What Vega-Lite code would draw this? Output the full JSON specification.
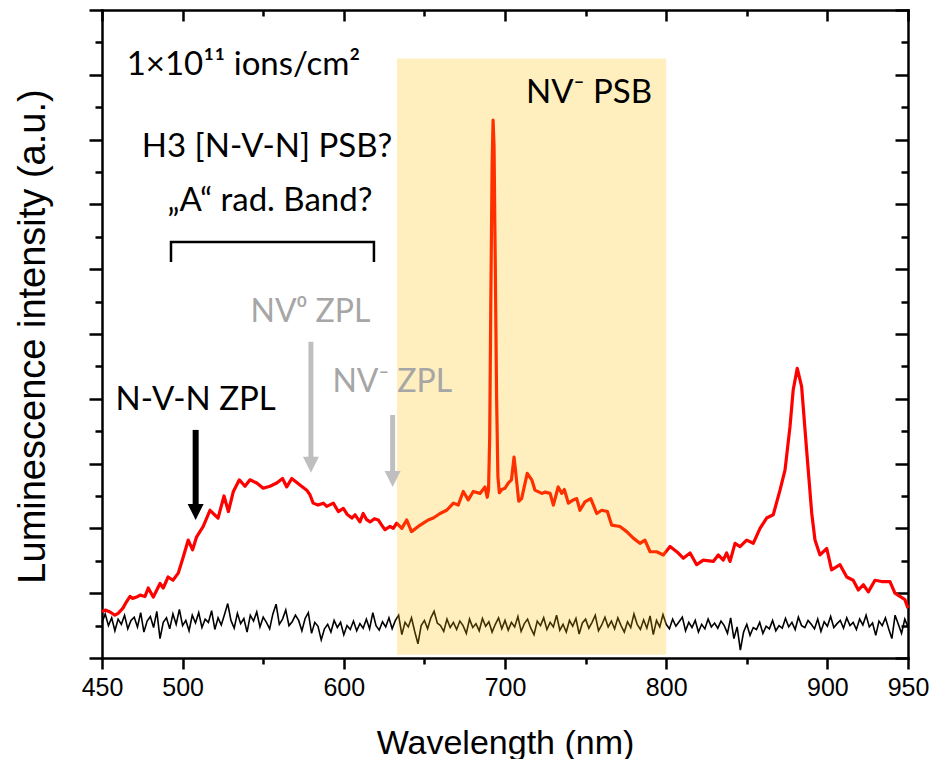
{
  "$schema": "https://vega.github.io/schema/vega-lite/v6.json",
  "width": 806,
  "height": 648,
  "autosize": {"type": "none"},
  "padding": {"left": 102, "top": 10, "right": 37, "bottom": 101},
  "background": "white",
  "config": {
    "view": {"stroke": null},
    "axis": {"grid": false, "domainColor": "black", "tickColor": "black", "domainWidth": 2.5, "tickWidth": 2.5, "domainCap": "square"}
  },
  "resolve": {"axis": {"x": "independent", "y": "independent"}},
  "datasets": {
    "red": [
      {"x":450,"y":0.71},{"x":452,"y":0.74},{"x":455,"y":0.71},{"x":458,"y":0.66},{"x":460,"y":0.69},{"x":463,"y":0.77},{"x":465,"y":0.86},{"x":467.4,"y":0.95},{"x":469,"y":0.92},{"x":471.5,"y":0.94},{"x":473.6,"y":0.97},{"x":476.7,"y":0.95},{"x":478.7,"y":1.08},{"x":481.8,"y":0.94},{"x":484,"y":1.05},{"x":486,"y":1.15},{"x":488,"y":1.08},{"x":491,"y":1.25},{"x":494,"y":1.2},{"x":497.3,"y":1.31},{"x":500.4,"y":1.56},{"x":503.5,"y":1.82},{"x":506.2,"y":1.67},{"x":508.7,"y":1.87},{"x":512.8,"y":2.03},{"x":517,"y":2.28},{"x":519,"y":2.23},{"x":522,"y":2.16},{"x":525.7,"y":2.5},{"x":528.4,"y":2.26},{"x":531.5,"y":2.57},{"x":535.2,"y":2.75},{"x":538.7,"y":2.65},{"x":541.8,"y":2.75},{"x":546,"y":2.7},{"x":550,"y":2.62},{"x":554.2,"y":2.65},{"x":558.4,"y":2.7},{"x":562,"y":2.77},{"x":564.6,"y":2.64},{"x":567.7,"y":2.77},{"x":572.8,"y":2.67},{"x":577,"y":2.59},{"x":579,"y":2.52},{"x":581,"y":2.39},{"x":584,"y":2.36},{"x":587.3,"y":2.39},{"x":589.4,"y":2.34},{"x":593.5,"y":2.39},{"x":596.6,"y":2.26},{"x":599.7,"y":2.31},{"x":602,"y":2.22},{"x":605,"y":2.16},{"x":607,"y":2.21},{"x":610,"y":2.1},{"x":612,"y":2.23},{"x":614,"y":2.14},{"x":616.3,"y":2.1},{"x":619,"y":2.15},{"x":621.4,"y":2.13},{"x":623.5,"y":2.05},{"x":625.6,"y":1.98},{"x":628.7,"y":2.03},{"x":630.7,"y":2.0},{"x":632.8,"y":2.08},{"x":636,"y":2.0},{"x":639,"y":2.13},{"x":642,"y":1.95},{"x":646.2,"y":2.03},{"x":649.3,"y":2.08},{"x":652.4,"y":2.13},{"x":655.5,"y":2.16},{"x":659.7,"y":2.23},{"x":663.8,"y":2.28},{"x":668,"y":2.39},{"x":671,"y":2.36},{"x":674.1,"y":2.57},{"x":677.2,"y":2.44},{"x":680.3,"y":2.57},{"x":684.5,"y":2.54},{"x":687.6,"y":2.64},{"x":689,"y":2.48},{"x":689.8,"y":2.6},{"x":690.5,"y":3.4},{"x":691.2,"y":5.5},{"x":692,"y":7.6},{"x":692.6,"y":8.3},{"x":693.2,"y":7.9},{"x":694,"y":6.0},{"x":694.8,"y":4.0},{"x":695.6,"y":2.8},{"x":696.5,"y":2.55},{"x":698,"y":2.6},{"x":700,"y":2.62},{"x":702,"y":2.7},{"x":704,"y":2.75},{"x":705.6,"y":3.1},{"x":706.5,"y":2.9},{"x":708.5,"y":2.42},{"x":710.3,"y":2.46},{"x":713.8,"y":2.85},{"x":716.6,"y":2.75},{"x":718.6,"y":2.59},{"x":722.8,"y":2.54},{"x":725,"y":2.56},{"x":728,"y":2.54},{"x":730,"y":2.36},{"x":733,"y":2.64},{"x":735.2,"y":2.54},{"x":736.8,"y":2.6},{"x":739.3,"y":2.39},{"x":742.4,"y":2.44},{"x":744.5,"y":2.46},{"x":746.5,"y":2.28},{"x":749.6,"y":2.41},{"x":753.2,"y":2.46},{"x":756.9,"y":2.23},{"x":760,"y":2.28},{"x":763.5,"y":2.26},{"x":766.2,"y":2.05},{"x":771.3,"y":2.03},{"x":775.5,"y":1.95},{"x":779.6,"y":1.85},{"x":783.7,"y":1.77},{"x":786.8,"y":1.82},{"x":790,"y":1.64},{"x":794.1,"y":1.64},{"x":798.2,"y":1.59},{"x":802.4,"y":1.72},{"x":807.5,"y":1.62},{"x":810.6,"y":1.54},{"x":814.8,"y":1.62},{"x":818.9,"y":1.44},{"x":823,"y":1.51},{"x":829.2,"y":1.49},{"x":832.3,"y":1.59},{"x":835.4,"y":1.51},{"x":837.5,"y":1.62},{"x":839.6,"y":1.49},{"x":842.7,"y":1.77},{"x":845.8,"y":1.72},{"x":849.9,"y":1.82},{"x":854,"y":1.77},{"x":858.2,"y":2.0},{"x":862.3,"y":2.16},{"x":866.4,"y":2.21},{"x":870.6,"y":2.59},{"x":873.7,"y":2.9},{"x":876.8,"y":3.57},{"x":878.8,"y":4.14},{"x":881.3,"y":4.47},{"x":884,"y":4.19},{"x":887.1,"y":3.21},{"x":890.3,"y":2.23},{"x":892.3,"y":1.82},{"x":895.4,"y":1.59},{"x":899.6,"y":1.69},{"x":902.6,"y":1.36},{"x":907.8,"y":1.44},{"x":912,"y":1.25},{"x":916,"y":1.2},{"x":919.2,"y":1.05},{"x":922.3,"y":1.13},{"x":925.4,"y":1.02},{"x":929.5,"y":1.2},{"x":933.7,"y":1.18},{"x":938.8,"y":1.18},{"x":941.9,"y":1.0},{"x":945,"y":0.95},{"x":948.1,"y":0.9},{"x":950,"y":0.77}
    ],
    "black": [
      {"x":450,"y":0.55},{"x":452,"y":0.68},{"x":454,"y":0.50},{"x":456,"y":0.62},{"x":458,"y":0.42},{"x":460,"y":0.60},{"x":462,"y":0.52},{"x":464,"y":0.66},{"x":466,"y":0.45},{"x":468,"y":0.58},
      {"x":470,"y":0.63},{"x":472,"y":0.48},{"x":474,"y":0.70},{"x":476,"y":0.40},{"x":478,"y":0.57},{"x":480,"y":0.64},{"x":482,"y":0.47},{"x":484,"y":0.72},{"x":486,"y":0.30},{"x":488,"y":0.55},
      {"x":490,"y":0.62},{"x":492,"y":0.45},{"x":494,"y":0.68},{"x":496,"y":0.52},{"x":498,"y":0.75},{"x":500,"y":0.50},{"x":502,"y":0.58},{"x":504,"y":0.42},{"x":506,"y":0.66},{"x":508,"y":0.54},
      {"x":510,"y":0.70},{"x":512,"y":0.47},{"x":514,"y":0.60},{"x":516,"y":0.55},{"x":518,"y":0.73},{"x":520,"y":0.44},{"x":522,"y":0.62},{"x":524,"y":0.51},{"x":526,"y":0.67},{"x":528,"y":0.84},
      {"x":530,"y":0.58},{"x":532,"y":0.46},{"x":534,"y":0.69},{"x":536,"y":0.53},{"x":538,"y":0.61},{"x":540,"y":0.40},{"x":542,"y":0.66},{"x":544,"y":0.57},{"x":546,"y":0.71},{"x":548,"y":0.48},
      {"x":550,"y":0.63},{"x":552,"y":0.55},{"x":554,"y":0.45},{"x":556,"y":0.68},{"x":558,"y":0.83},{"x":560,"y":0.52},{"x":562,"y":0.60},{"x":564,"y":0.74},{"x":566,"y":0.50},{"x":568,"y":0.56},
      {"x":570,"y":0.66},{"x":572,"y":0.58},{"x":574,"y":0.42},{"x":576,"y":0.61},{"x":578,"y":0.70},{"x":580,"y":0.38},{"x":582,"y":0.55},{"x":584,"y":0.49},{"x":586,"y":0.28},{"x":588,"y":0.45},
      {"x":590,"y":0.52},{"x":592,"y":0.40},{"x":594,"y":0.58},{"x":596,"y":0.47},{"x":598,"y":0.55},{"x":600,"y":0.36},{"x":602,"y":0.50},{"x":604,"y":0.44},{"x":606,"y":0.57},{"x":608,"y":0.42},
      {"x":610,"y":0.53},{"x":612,"y":0.46},{"x":614,"y":0.60},{"x":616,"y":0.45},{"x":618,"y":0.70},{"x":620,"y":0.50},{"x":622,"y":0.43},{"x":624,"y":0.56},{"x":626,"y":0.48},{"x":628,"y":0.62},
      {"x":630,"y":0.45},{"x":632,"y":0.58},{"x":634,"y":0.66},{"x":636,"y":0.36},{"x":638,"y":0.55},{"x":640,"y":0.48},{"x":642,"y":0.62},{"x":644,"y":0.41},{"x":646,"y":0.22},{"x":648,"y":0.50},
      {"x":650,"y":0.58},{"x":652,"y":0.45},{"x":654,"y":0.62},{"x":656,"y":0.72},{"x":658,"y":0.54},{"x":660,"y":0.50},{"x":662,"y":0.41},{"x":664,"y":0.60},{"x":666,"y":0.47},{"x":668,"y":0.55},
      {"x":670,"y":0.44},{"x":672,"y":0.57},{"x":674,"y":0.50},{"x":676,"y":0.38},{"x":678,"y":0.60},{"x":680,"y":0.47},{"x":682,"y":0.53},{"x":684,"y":0.42},{"x":686,"y":0.61},{"x":688,"y":0.49},
      {"x":690,"y":0.56},{"x":692,"y":0.40},{"x":694,"y":0.52},{"x":696,"y":0.62},{"x":698,"y":0.45},{"x":700,"y":0.58},{"x":702,"y":0.43},{"x":704,"y":0.55},{"x":706,"y":0.48},{"x":708,"y":0.64},
      {"x":710,"y":0.41},{"x":712,"y":0.53},{"x":714,"y":0.60},{"x":716,"y":0.46},{"x":718,"y":0.36},{"x":720,"y":0.57},{"x":722,"y":0.50},{"x":724,"y":0.62},{"x":726,"y":0.44},{"x":728,"y":0.55},
      {"x":730,"y":0.48},{"x":732,"y":0.66},{"x":734,"y":0.43},{"x":736,"y":0.52},{"x":738,"y":0.40},{"x":740,"y":0.58},{"x":742,"y":0.49},{"x":744,"y":0.61},{"x":746,"y":0.37},{"x":748,"y":0.54},
      {"x":750,"y":0.60},{"x":752,"y":0.46},{"x":754,"y":0.55},{"x":756,"y":0.66},{"x":758,"y":0.42},{"x":760,"y":0.51},{"x":762,"y":0.63},{"x":764,"y":0.48},{"x":766,"y":0.57},{"x":768,"y":0.45},
      {"x":770,"y":0.62},{"x":772,"y":0.50},{"x":774,"y":0.40},{"x":776,"y":0.56},{"x":778,"y":0.47},{"x":780,"y":0.68},{"x":782,"y":0.52},{"x":784,"y":0.44},{"x":786,"y":0.59},{"x":788,"y":0.46},
      {"x":790,"y":0.65},{"x":792,"y":0.36},{"x":794,"y":0.58},{"x":796,"y":0.48},{"x":798,"y":0.67},{"x":800,"y":0.52},{"x":802,"y":0.45},{"x":804,"y":0.60},{"x":806,"y":0.49},{"x":808,"y":0.56},
      {"x":810,"y":0.63},{"x":812,"y":0.42},{"x":814,"y":0.55},{"x":816,"y":0.47},{"x":818,"y":0.58},{"x":820,"y":0.40},{"x":822,"y":0.52},{"x":824,"y":0.45},{"x":826,"y":0.60},{"x":828,"y":0.48},
      {"x":830,"y":0.54},{"x":832,"y":0.46},{"x":834,"y":0.57},{"x":836,"y":0.50},{"x":838,"y":0.38},{"x":840,"y":0.62},{"x":842,"y":0.30},{"x":844,"y":0.48},{"x":846,"y":0.12},{"x":848,"y":0.40},
      {"x":850,"y":0.52},{"x":852,"y":0.35},{"x":854,"y":0.47},{"x":856,"y":0.44},{"x":858,"y":0.55},{"x":860,"y":0.38},{"x":862,"y":0.49},{"x":864,"y":0.45},{"x":866,"y":0.58},{"x":868,"y":0.42},
      {"x":870,"y":0.50},{"x":872,"y":0.46},{"x":874,"y":0.61},{"x":876,"y":0.48},{"x":878,"y":0.55},{"x":880,"y":0.44},{"x":882,"y":0.63},{"x":884,"y":0.50},{"x":886,"y":0.47},{"x":888,"y":0.58},
      {"x":890,"y":0.52},{"x":892,"y":0.45},{"x":894,"y":0.60},{"x":896,"y":0.41},{"x":898,"y":0.56},{"x":900,"y":0.49},{"x":902,"y":0.64},{"x":904,"y":0.47},{"x":906,"y":0.53},{"x":908,"y":0.58},
      {"x":910,"y":0.46},{"x":912,"y":0.62},{"x":914,"y":0.50},{"x":916,"y":0.55},{"x":918,"y":0.44},{"x":920,"y":0.60},{"x":922,"y":0.51},{"x":924,"y":0.66},{"x":926,"y":0.48},{"x":928,"y":0.54},
      {"x":930,"y":0.35},{"x":932,"y":0.57},{"x":934,"y":0.50},{"x":936,"y":0.62},{"x":938,"y":0.45},{"x":940,"y":0.30},{"x":942,"y":0.66},{"x":944,"y":0.52},{"x":946,"y":0.38},{"x":948,"y":0.60},
      {"x":950,"y":0.48}
    ],
    "shade": [{"x":633,"x2":800,"y":0.05,"y2":9.25}],
    "bracket": [{"x":492.8,"y":6.11,"o":0},{"x":492.8,"y":6.42,"o":1},{"x":618.7,"y":6.42,"o":2},{"x":618.7,"y":6.11,"o":3}],
    "arrowBlack": [{"x":508.1,"y":3.52,"y2":2.3,"tip":2.13}],
    "arrowGray": [{"x":579.6,"y":4.88,"y2":3.0,"tip":2.86},{"x":630.3,"y":3.75,"y2":2.8,"tip":2.64}],
    "textBlack": [
      {"x":537.8,"y":9.0,"text":"1×10¹¹ ions/cm²"},
      {"x":552.4,"y":7.73,"text":"H3 [N-V-N] PSB?"},
      {"x":554.2,"y":6.9,"text":"„A“ rad. Band?"},
      {"x":752.1,"y":8.56,"text":"NV⁻ PSB"},
      {"x":508.1,"y":3.83,"text":"N-V-N ZPL"}
    ],
    "textGray": [
      {"x":579.3,"y":5.19,"text":"NV⁰ ZPL"},
      {"x":630.1,"y":4.11,"text":"NV⁻ ZPL"}
    ]
  },
  "layer": [
    {
      "data": {"name": "red"},
      "mark": {"type": "line", "color": "#FF0000", "strokeWidth": 3.2, "strokeJoin": "round"},
      "encoding": {
        "x": {"field": "x", "type": "quantitative", "scale": {"domain": [450, 950], "nice": false, "zero": false},
          "axis": {"orient": "bottom", "values": [450,500,550,600,650,700,750,800,850,900,950],
            "tickSize": {"condition": {"test": "datum.value % 100 === 0 || datum.value === 450 || datum.value === 950", "value": 11}, "value": 6},
            "labelExpr": "(datum.value % 100 === 0 || datum.value === 450 || datum.value === 950) ? datum.label : ''",
            "labelFont": "Liberation Sans", "labelFontSize": 25, "labelColor": "black", "labelPadding": 6, "labelFlush": false, "labelOverlap": false,
            "title": "Wavelength (nm)", "titleFont": "Liberation Sans", "titleFontSize": 34, "titleFontWeight": "normal", "titleColor": "black",
            "titleX": 403, "titleY": 95, "titleBaseline": "alphabetic", "titleAlign": "center"}},
        "y": {"field": "y", "type": "quantitative", "scale": {"domain": [0, 10], "nice": false, "zero": false},
          "axis": {"orient": "left", "values": [0,0.5,1,1.5,2,2.5,3,3.5,4,4.5,5,5.5,6,6.5,7,7.5,8,8.5,9,9.5,10],
            "tickSize": {"condition": {"test": "datum.value % 1 === 0", "value": 13}, "value": 7},
            "labels": false,
            "title": "Luminescence intensity (a.u.)", "titleFont": "Liberation Sans", "titleFontSize": 38, "titleFontWeight": "normal", "titleColor": "black",
            "titleX": -69, "titleY": 326, "titleAngle": 270, "titleAlign": "center", "titleBaseline": "middle"}}
      }
    },
    {
      "data": {"name": "black"},
      "mark": {"type": "line", "color": "#000000", "strokeWidth": 1.6, "strokeJoin": "miter"},
      "encoding": {
        "x": {"field": "x", "type": "quantitative",
          "axis": {"orient": "top", "values": [450,500,550,600,650,700,750,800,850,900,950],
            "tickSize": {"condition": {"test": "datum.value % 100 === 0 || datum.value === 450 || datum.value === 950", "value": -11}, "value": -6},
            "labels": false, "title": null}},
        "y": {"field": "y", "type": "quantitative",
          "axis": {"orient": "right", "values": [0,0.5,1,1.5,2,2.5,3,3.5,4,4.5,5,5.5,6,6.5,7,7.5,8,8.5,9,9.5,10],
            "tickSize": {"condition": {"test": "datum.value % 1 === 0", "value": -13}, "value": -7},
            "labels": false, "title": null}}
      }
    },
    {
      "data": {"name": "shade"},
      "mark": {"type": "rect", "color": "#FFC000", "opacity": 0.25},
      "encoding": {
        "x": {"field": "x", "type": "quantitative", "axis": null},
        "x2": {"field": "x2"},
        "y": {"field": "y", "type": "quantitative", "axis": null},
        "y2": {"field": "y2"}
      }
    },
    {
      "data": {"name": "bracket"},
      "mark": {"type": "line", "color": "black", "strokeWidth": 2.5, "strokeJoin": "miter", "strokeCap": "butt"},
      "encoding": {
        "x": {"field": "x", "type": "quantitative", "axis": null},
        "y": {"field": "y", "type": "quantitative", "axis": null},
        "order": {"field": "o", "type": "quantitative"}
      }
    },
    {
      "data": {"name": "arrowBlack"},
      "mark": {"type": "rule", "color": "black", "strokeWidth": 6},
      "encoding": {
        "x": {"field": "x", "type": "quantitative", "axis": null},
        "y": {"field": "y", "type": "quantitative", "axis": null},
        "y2": {"field": "y2"}
      }
    },
    {
      "data": {"name": "arrowBlack"},
      "mark": {"type": "point", "shape": "M-1,-2L1,-2L0,0Z", "filled": true, "color": "black", "opacity": 1, "size": 256, "strokeWidth": 0},
      "encoding": {
        "x": {"field": "x", "type": "quantitative", "axis": null},
        "y": {"field": "tip", "type": "quantitative", "axis": null}
      }
    },
    {
      "data": {"name": "arrowGray"},
      "mark": {"type": "rule", "color": "#BFBFBF", "strokeWidth": 5},
      "encoding": {
        "x": {"field": "x", "type": "quantitative", "axis": null},
        "y": {"field": "y", "type": "quantitative", "axis": null},
        "y2": {"field": "y2"}
      }
    },
    {
      "data": {"name": "arrowGray"},
      "mark": {"type": "point", "shape": "M-1,-2L1,-2L0,0Z", "filled": true, "color": "#BFBFBF", "opacity": 1, "size": 256, "strokeWidth": 0},
      "encoding": {
        "x": {"field": "x", "type": "quantitative", "axis": null},
        "y": {"field": "tip", "type": "quantitative", "axis": null}
      }
    },
    {
      "data": {"name": "textBlack"},
      "mark": {"type": "text", "font": "Lato", "fontSize": 33, "color": "black", "align": "center", "baseline": "alphabetic"},
      "encoding": {
        "x": {"field": "x", "type": "quantitative", "axis": null},
        "y": {"field": "y", "type": "quantitative", "axis": null},
        "text": {"field": "text"}
      }
    },
    {
      "data": {"name": "textGray"},
      "mark": {"type": "text", "font": "Lato", "fontSize": 32, "color": "#A6A6A6", "align": "center", "baseline": "alphabetic"},
      "encoding": {
        "x": {"field": "x", "type": "quantitative", "axis": null},
        "y": {"field": "y", "type": "quantitative", "axis": null},
        "text": {"field": "text"}
      }
    }
  ]
}
